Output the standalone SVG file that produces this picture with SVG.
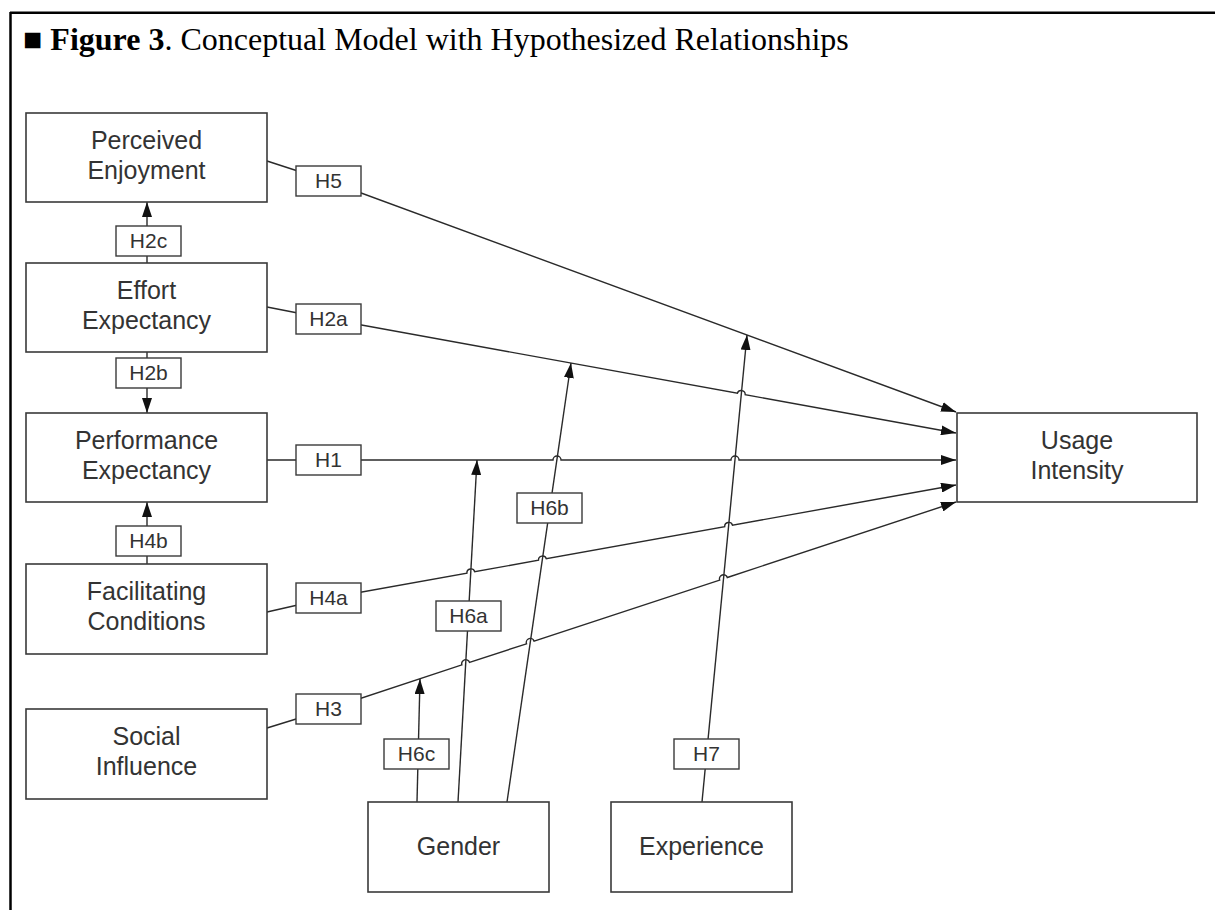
<svg xmlns="http://www.w3.org/2000/svg" width="1215" height="910" viewBox="0 0 1215 910">
<style>
.box{fill:#fff;stroke:#3a3a3a;stroke-width:1.6}
.lab{fill:#fff;stroke:#3a3a3a;stroke-width:1.4}
.nt{font-family:"Liberation Sans",Arial,sans-serif;font-size:25px;fill:#333;text-anchor:middle}
.lt{font-family:"Liberation Sans",Arial,sans-serif;font-size:21px;fill:#333;text-anchor:middle}
.ln{fill:none;stroke:#2a2a2a;stroke-width:1.4}
.ar{marker-end:url(#ah)}
</style>
<defs>
<marker id="ah" markerUnits="userSpaceOnUse" markerWidth="15" markerHeight="10" refX="15" refY="5" orient="auto">
<path d="M0,0 L15,5 L0,10 z" fill="#111"/>
</marker>
</defs>
<rect width="1215" height="910" fill="#fff"/>
<g id="frame">
<line x1="10" y1="12.8" x2="1215" y2="12.8" stroke="#000" stroke-width="2.5"/>
<line x1="10.5" y1="12" x2="10.5" y2="910" stroke="#000" stroke-width="2.5"/>
</g>
<g id="title">
<text x="23" y="50" font-family="'Liberation Serif','DejaVu Serif',serif" font-size="32" fill="#000">■ <tspan font-weight="bold">Figure 3</tspan>. Conceptual Model with Hypothesized Relationships</text>
</g>
<g id="connectors">
<path class="ln ar" d="M267,161 L328.5,181 L956,412"/>
<path class="ln ar" d="M267,307 L328.5,319 L737.4,393.3 A4,4 0 0 1 745.2,394.7 L956,433"/>
<path class="ln ar" d="M267,460 L553,460 A4,4 0 0 1 561,460 L731,460 A4,4 0 0 1 739,460 L956,460"/>
<path class="ln ar" d="M267,612 L328.5,598 L466.9,573.1 A4,4 0 0 1 474.7,571.7 L538.5,560.2 A4,4 0 0 1 546.3,558.8 L724.7,526.6 A4,4 0 0 1 732.5,525.2 L956,485"/>
<path class="ln ar" d="M267,728 L328.5,709 L461.9,664.9 A4,4 0 0 1 469.5,662.4 L526.5,643.8 A4,4 0 0 1 534.1,641.2 L719.7,580.1 A4,4 0 0 1 727.3,577.5 L956,502"/>
<path class="ln ar" d="M147,263 L147,202"/>
<path class="ln ar" d="M147,352 L147,413"/>
<path class="ln ar" d="M147,564 L147,502"/>
<path class="ln ar" d="M417,802 L420,679"/>
<path class="ln ar" d="M458,802 L477,460"/>
<path class="ln ar" d="M507,802 L571,363"/>
<path class="ln ar" d="M702,802 L747,335"/>
</g>
<g id="labels">
<g id="lab-H5"><rect class="lab" x="296" y="166" width="65" height="30"/><text class="lt" x="328.5" y="188">H5</text></g>
<g id="lab-H2a"><rect class="lab" x="296" y="304" width="65" height="30"/><text class="lt" x="328.5" y="326">H2a</text></g>
<g id="lab-H1"><rect class="lab" x="296" y="445" width="65" height="30"/><text class="lt" x="328.5" y="467">H1</text></g>
<g id="lab-H4a"><rect class="lab" x="296" y="583" width="65" height="30"/><text class="lt" x="328.5" y="605">H4a</text></g>
<g id="lab-H3"><rect class="lab" x="296" y="694" width="65" height="30"/><text class="lt" x="328.5" y="716">H3</text></g>
<g id="lab-H2c"><rect class="lab" x="116" y="226" width="65" height="30"/><text class="lt" x="148.5" y="248">H2c</text></g>
<g id="lab-H2b"><rect class="lab" x="116" y="358" width="65" height="30"/><text class="lt" x="148.5" y="380">H2b</text></g>
<g id="lab-H4b"><rect class="lab" x="116" y="526" width="65" height="30"/><text class="lt" x="148.5" y="548">H4b</text></g>
<g id="lab-H6c"><rect class="lab" x="384" y="739" width="65" height="30"/><text class="lt" x="416.5" y="761">H6c</text></g>
<g id="lab-H6a"><rect class="lab" x="436" y="601" width="65" height="30"/><text class="lt" x="468.5" y="623">H6a</text></g>
<g id="lab-H6b"><rect class="lab" x="517" y="493" width="65" height="30"/><text class="lt" x="549.5" y="515">H6b</text></g>
<g id="lab-H7"><rect class="lab" x="674" y="739" width="65" height="30"/><text class="lt" x="706.5" y="761">H7</text></g>
</g>
<g id="node-PE"><rect class="box" x="26" y="113" width="241" height="89"/><text class="nt" x="146.5" y="149">Perceived</text><text class="nt" x="146.5" y="179">Enjoyment</text></g>
<g id="node-EE"><rect class="box" x="26" y="263" width="241" height="89"/><text class="nt" x="146.5" y="299">Effort</text><text class="nt" x="146.5" y="329">Expectancy</text></g>
<g id="node-PFE"><rect class="box" x="26" y="413" width="241" height="89"/><text class="nt" x="146.5" y="449">Performance</text><text class="nt" x="146.5" y="479">Expectancy</text></g>
<g id="node-FC"><rect class="box" x="26" y="564" width="241" height="90"/><text class="nt" x="146.5" y="600">Facilitating</text><text class="nt" x="146.5" y="630">Conditions</text></g>
<g id="node-SI"><rect class="box" x="26" y="709" width="241" height="90"/><text class="nt" x="146.5" y="745">Social</text><text class="nt" x="146.5" y="775">Influence</text></g>
<g id="node-UI"><rect class="box" x="957" y="413" width="240" height="89"/><text class="nt" x="1077" y="449">Usage</text><text class="nt" x="1077" y="479">Intensity</text></g>
<g id="node-G"><rect class="box" x="368" y="802" width="181" height="90"/><text class="nt" x="458.5" y="855">Gender</text></g>
<g id="node-X"><rect class="box" x="611" y="802" width="181" height="90"/><text class="nt" x="701.5" y="855">Experience</text></g>
</svg>
